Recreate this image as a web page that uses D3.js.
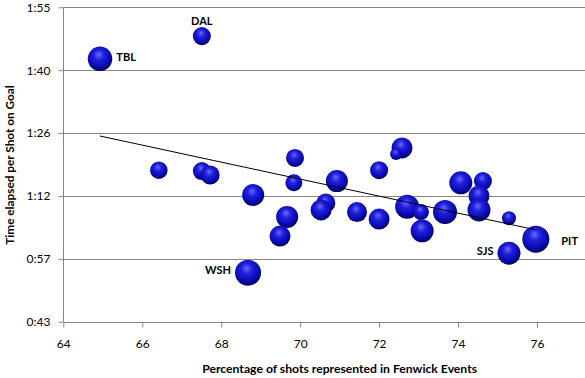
<!DOCTYPE html>
<html>
<head>
<meta charset="utf-8">
<script src="https://cdn.jsdelivr.net/npm/d3@7"></script>
<style>
  html, body { margin: 0; padding: 0; background: #fff; }
  svg { display: block; }
  text { font-family: Lato, "Open Sans", sans-serif; }
</style>
</head>
<body>
<svg id="chart" width="585" height="378"></svg>
<script>
// ---- data (x = % of shots in Fenwick events, y = seconds per shot on goal, size = bubble value) ----
const teams   = ["DAL","TBL","17","18","10","3","16","4","5","24","12","23","11","6","25","13a","19","7","26","13b","14","20","22","27","15","21","8","PIT","SJS","WSH"];
const pctFenwick = [67.51,64.93,72.58,72.43,69.87,66.42,72.00,67.51,67.72,74.63,70.93,74.07,69.84,68.81,74.53,70.65,72.71,69.67,74.53,70.53,71.44,73.06,73.67,75.29,72.00,73.09,69.49,75.97,75.29,68.68];
const secsPerShot = [108.6,103.4,83.0,81.6,80.7,77.9,77.9,77.7,76.8,75.4,75.4,75.0,75.0,72.2,72.0,70.4,69.5,67.2,68.8,68.8,68.3,68.3,68.3,66.9,66.7,64.0,62.8,62.1,58.9,54.4];
const bubbleSize = [81,151,110,36,81,76,81,81,90,81,121,132,72,121,110,90,144,121,132,110,100,64,144,49,110,132,110,182,132,169];
const labelled = ["TBL","DAL","WSH","SJS","PIT"];
const xTicks = [64,66,68,70,72,74,76];
const yTicks = [43.2,57.6,72,86.4,100.8,115.2];
const yTickLabels = ["0:43","0:57","1:12","1:26","1:40","1:55"];
const xTitle = "Percentage of shots represented in Fenwick Events";
const yTitle = "Time elapsed per Shot on Goal";

const svg = d3.select("#chart");
const W = 585, H = 378;
const plotLeft = 63.3, plotBottom = 321.7, plotTop = 7.3;

const x = d3.scaleLinear().domain([64, 78]).range([plotLeft, plotLeft + 14 * 39.475]);
const y = d3.scaleLinear().domain([43.2, 115.2]).range([plotBottom, plotTop]);
const r = d3.scaleSqrt().domain([0, d3.max(bubbleSize)]).range([0, 13.5]);

// gradient for 3D bubbles
const defs = svg.append("defs");
const grad = defs.append("radialGradient").attr("id", "ball")
  .attr("cx", "45%").attr("cy", "40%").attr("r", "60%").attr("fx", "45%").attr("fy", "32%");
grad.append("stop").attr("offset", "0%").attr("stop-color", "#6a6aff");
grad.append("stop").attr("offset", "35%").attr("stop-color", "#2020dd");
grad.append("stop").attr("offset", "75%").attr("stop-color", "#0a0ab4");
grad.append("stop").attr("offset", "100%").attr("stop-color", "#00005a");
defs.append("clipPath").attr("id", "plotclip").append("rect")
  .attr("x", plotLeft).attr("y", 0).attr("width", W - plotLeft).attr("height", plotBottom + 1);

// gridlines
svg.append("g").selectAll("line").data(yTicks.slice(1)).join("line")
  .attr("x1", plotLeft).attr("x2", W)
  .attr("y1", d => Math.round(y(d)) + 0.5).attr("y2", d => Math.round(y(d)) + 0.5)
  .attr("stroke", "#868686").attr("stroke-width", 1);

// axes
const yAxis = d3.axisLeft(y).tickValues(yTicks).tickFormat((d, i) => yTickLabels[i]).tickSize(5).tickPadding(8);
const gy = svg.append("g").attr("transform", `translate(${Math.round(plotLeft) + 0.5},0)`).call(yAxis);
gy.selectAll("line, path").attr("stroke", "#868686");
gy.selectAll("text").attr("font-size", 12).attr("fill", "#000").attr("font-family", "Lato, sans-serif");
gy.select(".domain").attr("d", `M0,${plotTop}V${plotBottom}`);

const xAxis = d3.axisBottom(x).tickValues(xTicks).tickSize(5).tickPadding(12);
const gx = svg.append("g").attr("transform", `translate(0,${Math.round(plotBottom) + 0.5})`).call(xAxis);
gx.selectAll("line, path").attr("stroke", "#868686");
gx.selectAll("text").attr("font-size", 12).attr("fill", "#000").attr("font-family", "Lato, sans-serif");
gx.select(".domain").attr("d", `M${plotLeft},0H${W}`);

// axis titles
svg.append("text").attr("x", x(71)).attr("y", 373).attr("text-anchor", "middle")
  .attr("font-size", 12.2).attr("font-weight", "bold").text(xTitle);
svg.append("text").attr("transform", `translate(14,165) rotate(-90)`).attr("text-anchor", "middle")
  .attr("font-size", 11.8).attr("font-weight", "bold").text(yTitle);

// bubbles
const data = teams.map((t, i) => ({ t, x: pctFenwick[i], y: secsPerShot[i], s: bubbleSize[i] }));
svg.append("g").attr("clip-path", "url(#plotclip)").selectAll("circle").data(data).join("circle")
  .attr("cx", d => x(d.x)).attr("cy", d => y(d.y)).attr("r", d => r(d.s))
  .attr("fill", "url(#ball)");

// linear trendline (least squares)
const mx = d3.mean(pctFenwick), my = d3.mean(secsPerShot);
const slope = d3.sum(pctFenwick, (v, i) => (v - mx) * (secsPerShot[i] - my)) / d3.sum(pctFenwick, v => (v - mx) ** 2);
const icpt = my - slope * mx;
const x0 = d3.min(pctFenwick), x1 = d3.max(pctFenwick);
svg.append("line")
  .attr("x1", x(x0)).attr("y1", y(icpt + slope * x0))
  .attr("x2", x(x1)).attr("y2", y(icpt + slope * x1))
  .attr("stroke", "#000").attr("stroke-width", 1);

// labels
const lab = svg.append("g").attr("font-size", 11).attr("font-weight", "bold").attr("fill", "#000");
data.filter(d => labelled.includes(d.t)).forEach(d => {
  const cx = x(d.x), cy = y(d.y), rr = r(d.s);
  let tx, ty, anchor;
  if (d.t === "DAL") { tx = cx; ty = cy - rr - 2; anchor = "middle"; }
  else if (d.t === "TBL") { tx = cx + rr + 4; ty = cy + 2; anchor = "start"; }
  else if (d.t === "PIT") { tx = cx + rr + 12; ty = cy + 6; anchor = "start"; }
  else { tx = cx - rr - 4; ty = cy + 1.5; anchor = "end"; }
  lab.append("text").attr("x", tx).attr("y", ty).attr("text-anchor", anchor).text(d.t);
});
</script>
</body>
</html>
